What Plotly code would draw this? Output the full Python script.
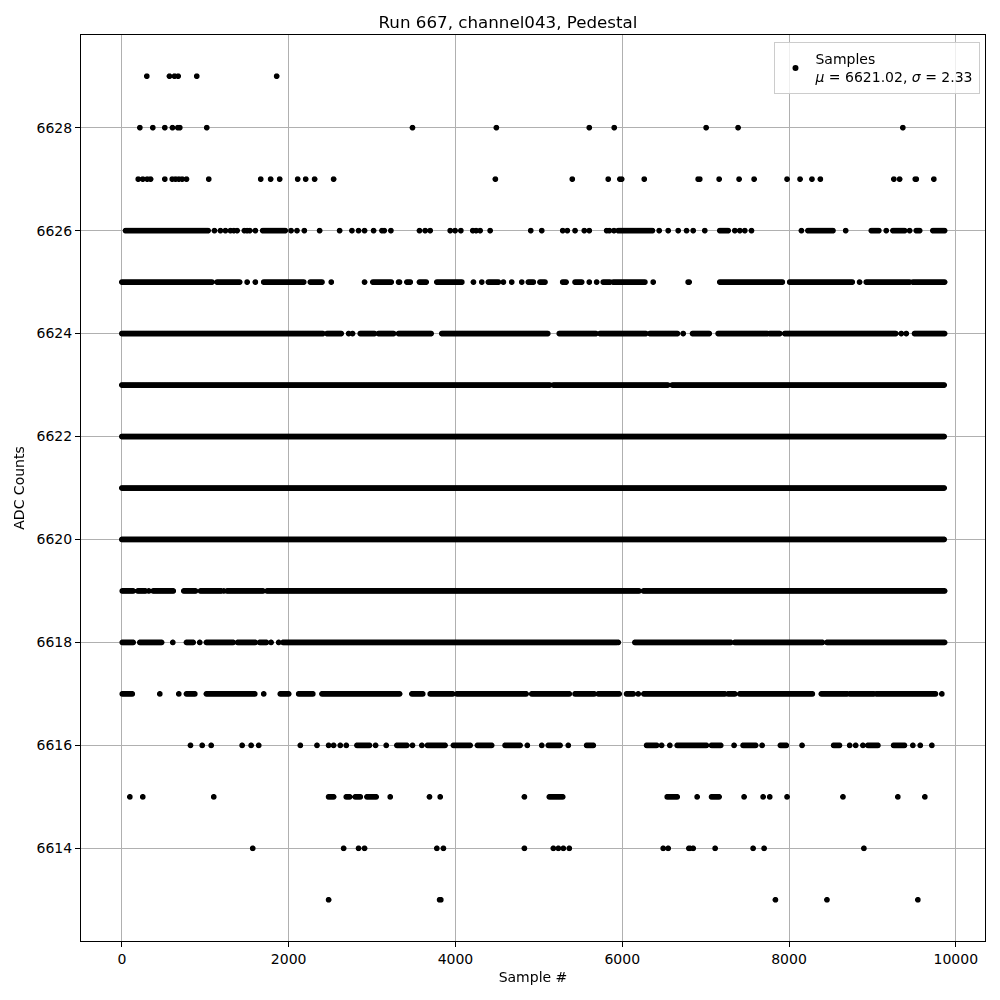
import numpy as np
import plotly.graph_objects as go

# ---- data (sample numbers per ADC level) ----
# isolated dots (sample #) per ADC level
dots_6629 = [299, 571, 631, 675, 898, 1856]
dots_6628 = [216, 371, 515, 607, 671, 695, 1018, 3485, 4491, 5605, 5904, 7006, 7389, 9365]
dots_6627 = [196, 251, 304, 344, 515, 604, 643, 683, 723, 775, 1042, 1665, 1784, 1892, 2108,
             2204, 2311, 2539, 4479, 5401, 5832, 5972, 5993, 6264, 6910, 6930, 7162, 7401,
             7581, 7976, 8132, 8275, 8376, 9257, 9326, 9514, 9526, 9737]
dots_6626 = [1110, 1182, 1242, 1302, 1342, 1382, 1469, 1502, 1533, 1601, 2029, 2100, 2188, 2371,
             2611, 2759, 2838, 2910, 3018, 3119, 3146, 3226, 3569, 3637, 3697, 3937, 3996, 4065,
             4208, 4248, 4296, 4416, 4903, 5035, 5286, 5342, 5434, 5545, 5605, 5813, 5845, 5901,
             6443, 6551, 6671, 6771, 6851, 6990, 7350, 7410, 7470, 7550, 8149, 8679, 9166, 9446]
runs_6626 = [(44, 1042), (1689, 1960), (5952, 6371), (7170, 7270), (8227, 8527), (8987, 9086),
             (9246, 9386), (9526, 9566), (9725, 9865)]
dots_6625 = [1502, 1601, 2511, 2910, 3318, 3329, 4216, 4316, 4575, 4675, 4795, 5605, 5693,
             6371, 6790, 6802, 8846]
runs_6625 = [(0, 1082), (1142, 1421), (1701, 2188), (2260, 2400), (3010, 3238), (3418, 3466),
             (3569, 3649), (3777, 4077), (4395, 4515), (4874, 4934), (5014, 5074), (5286, 5334),
             (5434, 5514), (5772, 5852), (5892, 6272), (7170, 7928), (8008, 8766), (8926, 9446),
             (9485, 9865)]
dots_6624 = [2719, 2766, 6731, 9346, 9406]
runs_6624 = [(0, 2419), (2460, 2639), (2859, 3038), (3078, 3258), (3318, 3717), (3837, 5114),
             (5245, 5693), (5733, 6292), (6332, 6671), (6843, 7050), (7150, 7749), (7769, 7889),
             (7949, 9286), (9505, 9865)]
runs_6623 = [(0, 5130), (5175, 6545), (6600, 9865)]
runs_6622 = [(0, 9865)]
runs_6621 = [(0, 9860)]
runs_6620 = [(0, 9860)]
dots_6619 = [323, 1222]
runs_6619 = [(5, 144), (192, 284), (376, 616), (743, 883), (943, 1202), (1262, 1701),
             (1741, 6205), (6255, 9865)]
dots_6618 = [611, 934, 1789, 1880, 5952]
runs_6618 = [(5, 144), (216, 484), (775, 855), (1014, 1341), (1389, 1601), (1653, 1741),
             (1933, 5933), (6152, 7310), (7350, 8408), (8455, 9865)]
dots_6617 = [455, 683, 1701, 6192, 9833]
runs_6617 = [(5, 132), (775, 883), (1014, 1601), (1900, 2000), (2120, 2299), (2400, 3338),
             (3478, 3617), (3697, 3976), (4017, 4855), (4915, 5374), (5434, 5673), (5713, 5972),
             (6052, 6132), (6260, 7230), (7270, 7350), (7410, 8288), (8388, 8707), (8727, 9026),
             (9046, 9765)]
dots_6616 = [823, 963, 1071, 1442, 1550, 1641, 2140, 2340, 2479, 2539, 2619, 2691, 3042, 3170,
             3298, 3485, 3597, 4862, 5035, 5353, 6472, 6571, 7341, 7677, 8156, 8727, 8799,
             8886, 9485, 9574, 9713]
runs_6616 = [(2819, 2978), (3306, 3418), (3665, 3877), (3976, 4176), (4264, 4436), (4595, 4775),
             (5114, 5254), (5573, 5661), (6292, 6412), (6659, 7011), (7071, 7190), (7449, 7601),
             (7897, 7969), (8535, 8607), (8946, 9066), (9254, 9386)]
dots_6615 = [96, 251, 1102, 3218, 3689, 3817, 4827, 6898, 7461, 7689, 7769, 7976, 8647, 9305, 9629]
runs_6615 = [(2479, 2539), (2691, 2731), (2799, 2859), (2939, 3058), (5126, 5286), (6539, 6659),
             (7071, 7162)]
dots_6614 = [1569, 2659, 2838, 2910, 3777, 3856, 4827, 5174, 5234, 5294, 5365, 6491, 6551,
             6799, 6811, 6851, 7114, 7569, 7701, 8898]
dots_6613 = [2479, 3810, 3825, 7837, 8455, 9545]

RUN_STEP = 10  # dots drawn along a continuous band

levels = {
    6629: (dots_6629, []), 6628: (dots_6628, []), 6627: (dots_6627, []),
    6626: (dots_6626, runs_6626), 6625: (dots_6625, runs_6625), 6624: (dots_6624, runs_6624),
    6623: ([], runs_6623), 6622: ([], runs_6622), 6621: ([], runs_6621), 6620: ([], runs_6620),
    6619: (dots_6619, runs_6619), 6618: (dots_6618, runs_6618), 6617: (dots_6617, runs_6617),
    6616: (dots_6616, runs_6616), 6615: (dots_6615, runs_6615), 6614: (dots_6614, []),
    6613: (dots_6613, []),
}

xs, ys = [], []
for lvl, (dots, runs) in levels.items():
    pts = list(dots)
    for a, b in runs:
        pts.extend(np.arange(a, b + 1, RUN_STEP).tolist())
    xs.extend(pts)
    ys.extend([lvl] * len(pts))

title = "Run 667, channel043, Pedestal"
legend_label = "Samples<br><i>μ</i> = 6621.02, <i>σ</i> = 2.33"
x_ticks = [0, 2000, 4000, 6000, 8000, 10000]
y_ticks = [6614, 6616, 6618, 6620, 6622, 6624, 6626, 6628]

fig = go.Figure()
fig.add_trace(go.Scattergl(
    x=xs, y=ys, mode="markers", name=legend_label,
    marker=dict(color="black", size=6, line=dict(width=0)),
))

font = "DejaVu Sans, Liberation Sans, sans-serif"
fig.update_layout(
    width=1000, height=1000,
    margin=dict(l=73, r=23, t=27, b=67),
    paper_bgcolor="white", plot_bgcolor="white",
    font=dict(family=font, size=14, color="black"),
    title=dict(text=title, x=0.5, xanchor="center", y=0.986, yanchor="middle",
               yref="container", font=dict(size=16.7)),
    showlegend=True,
    legend=dict(x=0.995, y=0.992, xanchor="right", yanchor="top",
                bgcolor="rgba(255,255,255,0.8)", bordercolor="#cccccc", borderwidth=1,
                font=dict(size=14), itemsizing="trace"),
)
fig.update_xaxes(
    range=[-490, 10350], tickvals=x_ticks, ticktext=[str(v) for v in x_ticks],
    showgrid=True, gridcolor="#b0b0b0", gridwidth=0.8, zeroline=False,
    showline=True, linecolor="black", linewidth=1, mirror=True,
    ticks="outside", ticklen=5, tickcolor="black",
    title=dict(text="Sample #", standoff=6, font=dict(size=14)),
)
fig.update_yaxes(
    range=[6612.2, 6629.8], tickvals=y_ticks, ticktext=[str(v) for v in y_ticks],
    showgrid=True, gridcolor="#b0b0b0", gridwidth=0.8, zeroline=False,
    showline=True, linecolor="black", linewidth=1, mirror=True,
    ticks="outside", ticklen=5, tickcolor="black",
    title=dict(text="ADC Counts", standoff=8, font=dict(size=14)),
)

fig.write_html("out.html")
